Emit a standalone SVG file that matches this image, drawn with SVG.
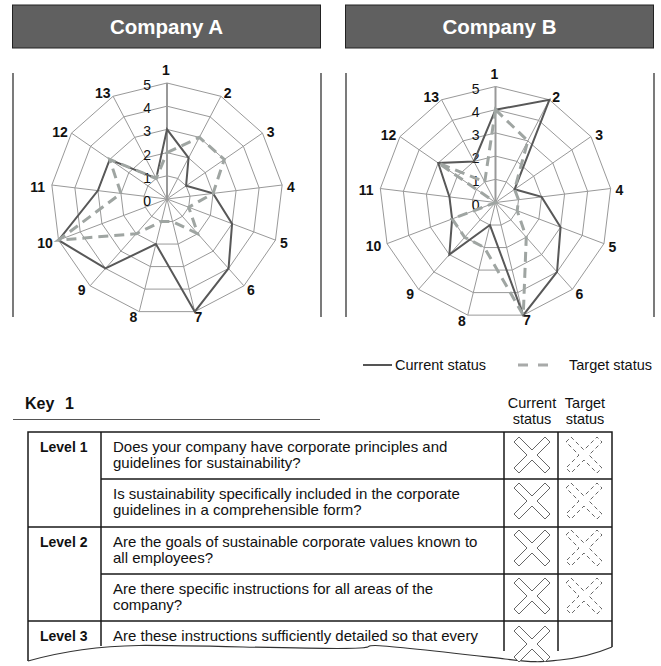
<svg xmlns="http://www.w3.org/2000/svg" xmlns:xlink="http://www.w3.org/1999/xlink" width="661" height="666" viewBox="0 0 661 666">
<style>
text{font-family:"Liberation Sans",Arial,Helvetica,sans-serif;fill:#111}
.title{font-size:20.5px;font-weight:bold;fill:#fff;text-anchor:middle}
.tbox{fill:#606060;stroke:#222;stroke-width:1}
.sep{stroke:#333;stroke-width:1.3;fill:none}
.ring{fill:none;stroke:#999;stroke-width:1}
.spoke{stroke:#999;stroke-width:1}
.axis{stroke:#999;stroke-width:2}
.ax{font-size:14px;font-weight:bold;text-anchor:middle}
.tk{font-size:14px;text-anchor:end}
.cur{fill:none;stroke:#585858;stroke-width:2;stroke-linejoin:miter}
.tgt{fill:none;stroke:#9fa5a2;stroke-width:3;stroke-dasharray:10 6}
.leg{font-size:14.5px}
.hdr{font-size:14.5px;text-anchor:middle}
.q{font-size:15px}
.lvl{font-size:14px;font-weight:bold}
.tl{stroke:#1a1a1a;stroke-width:1.5;fill:none}
.xs{fill:#fff;stroke:#666;stroke-width:1}
.xd{fill:#fff;stroke:#666;stroke-width:1;stroke-dasharray:4 3}
</style>
<defs>
<g id="grid">
<polygon class="ring" points="0,-116 53.91,-102.71 95.47,-65.89 115.15,-13.98 108.46,41.13 76.92,86.83 27.76,112.63 -27.76,112.63 -76.92,86.83 -108.46,41.13 -115.15,-13.98 -95.47,-65.89 -53.91,-102.71"/>
<polygon class="ring" points="0,-92.8 43.13,-82.17 76.37,-52.72 92.12,-11.19 86.77,32.91 61.54,69.46 22.21,90.1 -22.21,90.1 -61.54,69.46 -86.77,32.91 -92.12,-11.19 -76.37,-52.72 -43.13,-82.17"/>
<polygon class="ring" points="0,-69.6 32.34,-61.63 57.28,-39.54 69.09,-8.39 65.08,24.68 46.15,52.1 16.66,67.58 -16.66,67.58 -46.15,52.1 -65.08,24.68 -69.09,-8.39 -57.28,-39.54 -32.34,-61.63"/>
<polygon class="ring" points="0,-46.4 21.56,-41.09 38.19,-26.36 46.06,-5.59 43.39,16.45 30.77,34.73 11.1,45.05 -11.1,45.05 -30.77,34.73 -43.39,16.45 -46.06,-5.59 -38.19,-26.36 -21.56,-41.09"/>
<polygon class="ring" points="0,-23.2 10.78,-20.54 19.09,-13.18 23.03,-2.8 21.69,8.23 15.38,17.37 5.55,22.53 -5.55,22.53 -15.38,17.37 -21.69,8.23 -23.03,-2.8 -19.09,-13.18 -10.78,-20.54"/>
<path class="spoke" d="M0,0L53.91,-102.71M0,0L95.47,-65.89M0,0L115.15,-13.98M0,0L108.46,41.13M0,0L76.92,86.83M0,0L27.76,112.63M0,0L-27.76,112.63M0,0L-76.92,86.83M0,0L-108.46,41.13M0,0L-115.15,-13.98M0,0L-95.47,-65.89M0,0L-53.91,-102.71"/>
<line class="axis" x1="0" y1="0" x2="0" y2="-116"/>
<text class="ax" x="-1" y="-124">1</text>
<text class="ax" x="60.7" y="-100.7">2</text>
<text class="ax" x="103.7" y="-62.3">3</text>
<text class="ax" x="124" y="-7.3">4</text>
<text class="ax" x="117" y="49.3">5</text>
<text class="ax" x="84" y="96">6</text>
<text class="ax" x="31.3" y="122.7">7</text>
<text class="ax" x="-33.7" y="123.3">8</text>
<text class="ax" x="-85.3" y="96">9</text>
<text class="ax" x="-122" y="48.7">10</text>
<text class="ax" x="-129.3" y="-7.3">11</text>
<text class="ax" x="-107" y="-62.3">12</text>
<text class="ax" x="-64.3" y="-100.7">13</text>
<text class="tk" x="-16" y="-109">5</text>
<text class="tk" x="-16" y="-85.8">4</text>
<text class="tk" x="-16" y="-62.6">3</text>
<text class="tk" x="-16" y="-39.4">2</text>
<text class="tk" x="-16" y="-16.2">1</text>
<text class="tk" x="-16" y="7">0</text>
</g>
<polygon id="xmark" points="-18,-13 -13,-18 0,-5 13,-18 18,-13 5,0 18,13 13,18 0,5 -13,18 -18,13 -5,0"/>
</defs>

<g id="company-a">
<rect class="tbox" x="12.5" y="5" width="308" height="43"/>
<text class="title" x="166.5" y="33.5">Company A</text>
<line class="sep" x1="13" y1="73" x2="13" y2="317"/>
<line class="sep" x1="321" y1="73" x2="321" y2="317"/>
<g id="radar-a" transform="translate(167,199)">
<use xlink:href="#grid"/>
<polygon class="cur" points="0,-69.6 21.56,-41.09 19.09,-13.18 46.06,-5.59 65.08,24.68 61.54,69.46 27.76,112.63 -11.1,45.05 -61.54,69.46 -108.46,41.13 -69.09,-8.39 -57.28,-39.54 -10.78,-20.54"/>
<polygon class="tgt" points="0,-46.4 32.34,-61.63 57.28,-39.54 46.06,-5.59 21.69,8.23 30.77,34.73 5.55,22.53 -5.55,22.53 -30.77,34.73 -108.46,41.13 -46.06,-5.59 -57.28,-39.54 -10.78,-20.54"/>
</g>
</g>

<g id="company-b">
<rect class="tbox" x="345.5" y="5" width="308" height="43"/>
<text class="title" x="499.5" y="33.5">Company B</text>
<line class="sep" x1="346" y1="73" x2="346" y2="317"/>
<line class="sep" x1="654" y1="73" x2="654" y2="317"/>
<g id="radar-b" transform="translate(495.5,202.5)">
<use xlink:href="#grid"/>
<polygon class="cur" points="0,-92.8 53.91,-102.71 19.09,-13.18 46.06,-5.59 65.08,24.68 61.54,69.46 27.76,112.63 -5.55,22.53 -46.15,52.1 -43.39,16.45 -46.06,-5.59 -57.28,-39.54 -21.56,-41.09"/>
<polygon class="tgt" points="0,-92.8 32.34,-61.63 19.09,-13.18 23.03,-2.8 21.69,8.23 30.77,34.73 27.76,112.63 -11.1,45.05 -30.77,34.73 -43.39,16.45 0,0 -57.28,-39.54 -10.78,-20.54"/>
</g>
</g>

<g id="legend">
<line x1="363" y1="365" x2="392" y2="365" stroke="#555" stroke-width="2"/>
<text class="leg" x="395" y="369.5">Current status</text>
<line x1="518" y1="365" x2="548" y2="365" stroke="#a8aaa9" stroke-width="3" stroke-dasharray="10 10"/>
<text class="leg" x="569" y="369.5">Target status</text>
</g>

<g id="key">
<text x="25" y="409" style="font-size:16px;font-weight:bold">Key<tspan x="65">1</tspan></text>
<line x1="13" y1="419.5" x2="320" y2="419.5" stroke="#555" stroke-width="1.2"/>
<text class="hdr" x="532" y="408">Current</text>
<text class="hdr" x="585" y="408">Target</text>
<text class="hdr" x="532" y="424">status</text>
<text class="hdr" x="585" y="424">status</text>
</g>

<g id="table">
<path class="tl" d="M28,661V432H612V647M101,432V646M504,432V651M558,432V651M101,479H612M28,527H612M101,574H612M28,621H612"/>
<path d="M28,661C60,652 100,646 139,645.5S290,648.5 337,648.5S360,645.5 375,645.5S470,655 505,659S540,662 560,660S600,652 612,647" fill="none" stroke="#333" stroke-width="1.2"/>
<text class="lvl" x="40" y="451.5">Level 1</text>
<text class="q" x="113" y="451.5">Does your company have corporate principles and</text>
<text class="q" x="113" y="467.5">guidelines for sustainability?</text>
<text class="q" x="113" y="498.5">Is sustainability specifically included in the corporate</text>
<text class="q" x="113" y="514.5">guidelines in a comprehensible form?</text>
<text class="lvl" x="40" y="546.5">Level 2</text>
<text class="q" x="113" y="546.5">Are the goals of sustainable corporate values known to</text>
<text class="q" x="113" y="562.5">all employees?</text>
<text class="q" x="113" y="593.5">Are there specific instructions for all areas of the</text>
<text class="q" x="113" y="609.5">company?</text>
<text class="lvl" x="40" y="640.5">Level 3</text>
<text class="q" x="113" y="640.5">Are these instructions sufficiently detailed so that every</text>
<use class="xs" xlink:href="#xmark" x="532" y="455"/>
<use class="xd" xlink:href="#xmark" x="584" y="455"/>
<use class="xs" xlink:href="#xmark" x="532" y="501"/>
<use class="xd" xlink:href="#xmark" x="584" y="501"/>
<use class="xs" xlink:href="#xmark" x="532" y="548"/>
<use class="xd" xlink:href="#xmark" x="584" y="548"/>
<use class="xs" xlink:href="#xmark" x="532" y="596"/>
<use class="xd" xlink:href="#xmark" x="584" y="596"/>
<use class="xs" xlink:href="#xmark" x="532" y="644"/>
</g>
</svg>
